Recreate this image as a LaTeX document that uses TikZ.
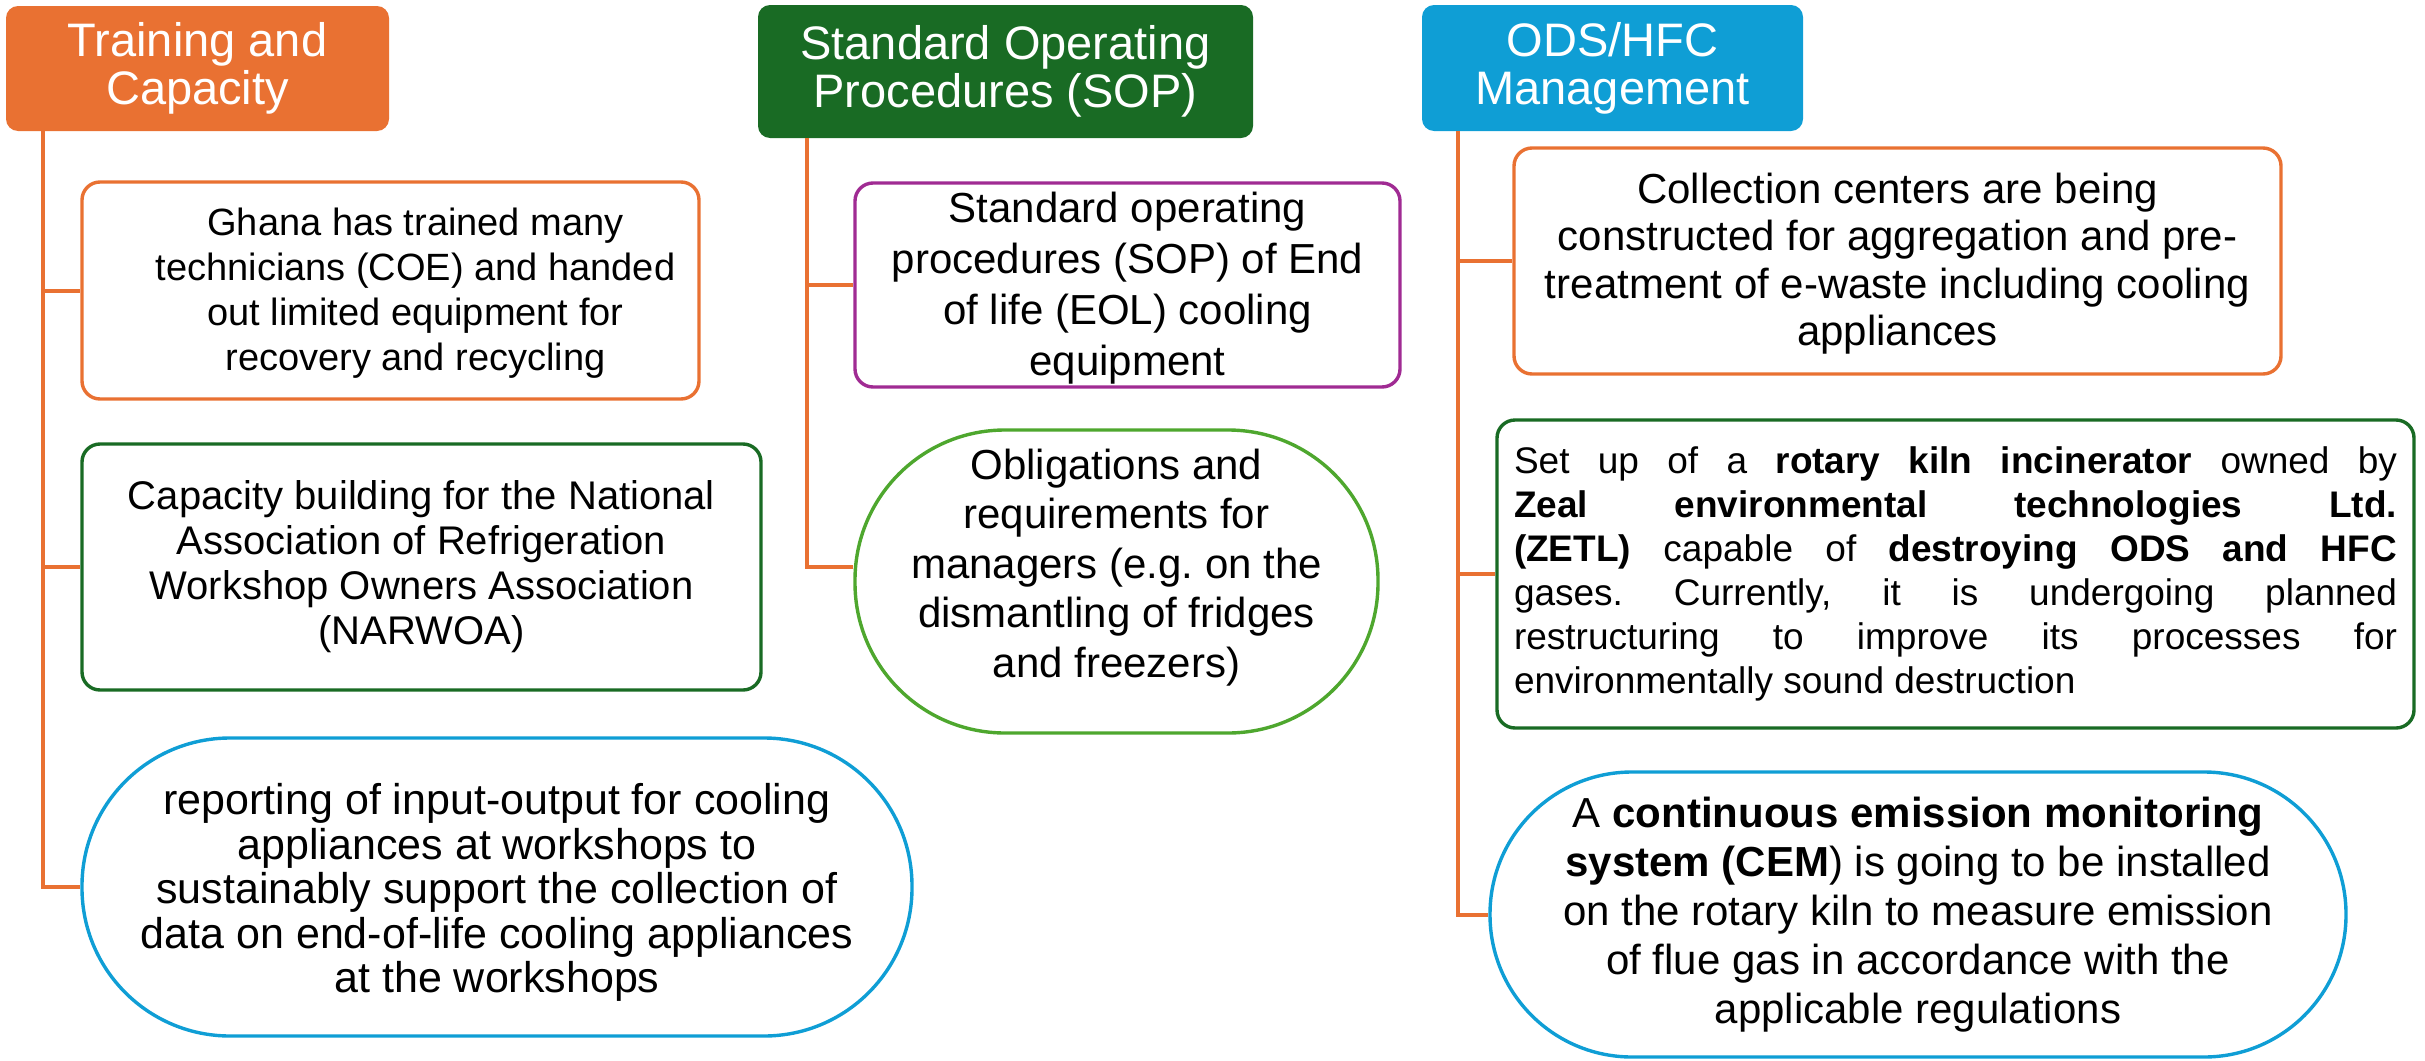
\documentclass[tikz,border=0pt]{standalone}
\usepackage{fontspec}
\setmainfont{Liberation Sans}
\frenchspacing

\definecolor{accOrange}{HTML}{E97132}
\definecolor{accGreen}{HTML}{196B24}
\definecolor{accBlue}{HTML}{0F9ED5}
\definecolor{accPurple}{HTML}{A02B93}
\definecolor{accLime}{HTML}{4EA72E}

% text block moved inside its box: {dx}{dy}{lines}
\newcommand{\nudgetext}[3]{\raisebox{#2}[\height][\depth]{\hspace*{#1}\begin{tabular}{@{}c@{}}#3\end{tabular}\hspace*{-#1}}}

\tikzset{
    headbox/.style={fill=#1, rounded corners=6pt, text=white, align=center, inner sep=0pt,
        font=\fontsize{23.5}{24}\selectfont},
    itembox/.style={draw=#1, line width=1.7pt, fill=white, rounded corners=9pt, align=center, inner sep=0pt},
    link/.style={draw=accOrange, line width=2pt},
}

\begin{document}
\begin{tikzpicture}[x=0.5pt,y=-0.5pt]

    % white page with the proportions of the original
    \useasboundingbox (0,0) rectangle (2425,1060);

    % column heads
    \node[headbox=accOrange, minimum width=191.5pt, minimum height=62.5pt] (train) at (197.5,68.5) {Training and\\Capacity};
    \node[headbox=accGreen, minimum width=247.5pt, minimum height=66.5pt] (sop) at (1005.5,71.5) {Standard Operating\\Procedures (SOP)};
    \node[headbox=accBlue, minimum width=190.5pt, minimum height=63pt] (ods) at (1612.5,68) {ODS/HFC\\Management};

    % first column
    \node[itembox=accOrange, minimum width=308.5pt, minimum height=108.5pt, font=\fontsize{19}{22.5}\selectfont] (ghana) at (390.5,290.5)
        {\nudgetext{12.5pt}{-1.5pt}{Ghana has trained many\\technicians (COE) and handed\\out limited equipment for\\recovery and recycling}};
    \node[itembox=accGreen, minimum width=339.5pt, minimum height=123pt, font=\fontsize{20}{22.5}\selectfont] (narwoa) at (421.5,567)
        {Capacity building for the National\\Association of Refrigeration\\Workshop Owners Association\\(NARWOA)};
    \node[itembox=accBlue, rounded corners=74pt, minimum width=415pt, minimum height=149pt, font=\fontsize{21.5}{22.25}\selectfont] (report) at (497,887)
        {\nudgetext{0pt}{-4pt}{reporting of input-output for cooling\\appliances at workshops to\\sustainably support the collection of\\data on end-of-life cooling appliances\\at the workshops}};

    % second column
    \node[itembox=accPurple, minimum width=272.5pt, minimum height=97pt, font=\fontsize{21}{25.5}\selectfont] (eol) at (1127.5,285)
        {\nudgetext{0pt}{-2pt}{Standard operating\\procedures (SOP) of End\\of life (EOL) cooling\\equipment}};
    \node[itembox=accLime, rounded corners=75pt, minimum width=261.5pt, minimum height=151.5pt, font=\fontsize{21}{24.75}\selectfont] (duty) at (1116.5,581.5)
        {\nudgetext{0pt}{6.7pt}{Obligations and\\requirements for\\managers (e.g. on the\\dismantling of fridges\\and freezers)}};

    % third column
    \node[itembox=accOrange, minimum width=383.5pt, minimum height=113pt, font=\fontsize{21}{23.75}\selectfont] (centre) at (1897.5,261)
        {\nudgetext{0pt}{-2pt}{Collection centers are being\\constructed for aggregation and pre-\\treatment of e-waste including cooling\\appliances}};
    \node[itembox=accGreen, minimum width=458.5pt, minimum height=154pt, text width=441.5pt, align=justify, font=\fontsize{18.5}{22}\selectfont] (zetl) at (1955.5,574)
        {Set up of a \textbf{rotary kiln incinerator} owned by\linebreak
         \textbf{Zeal environmental technologies Ltd.}\linebreak
         \textbf{(ZETL)} capable of \textbf{destroying ODS and HFC}\linebreak
         gases. Currently, it is undergoing planned\linebreak
         restructuring to improve its processes for\linebreak
         environmentally sound destruction};
    \node[itembox=accBlue, rounded corners=71pt, minimum width=428pt, minimum height=142.5pt, font=\fontsize{21}{24.5}\selectfont] (cem) at (1918,914.5)
        {A \textbf{continuous emission monitoring}\\\textbf{system (CEM}) is going to be installed\\on the rotary kiln to measure emission\\of flue gas in accordance with the\\applicable regulations};

    % trunks of the three columns
    \coordinate (trainTrunk) at ([xshift=18.5pt]train.south west);
    \coordinate (sopTrunk) at ([xshift=24.5pt]sop.south west);
    \coordinate (odsTrunk) at ([xshift=18pt]ods.south west);

    % branches
    \foreach \b in {ghana,narwoa,report}
        \draw[link] (trainTrunk) |- (\b.west);
    \draw[link] (sopTrunk) |- (eol.west);
    \draw[link] (sopTrunk) |- ([yshift=7.5pt]duty.west);
    \foreach \b in {centre,zetl,cem}
        \draw[link] (odsTrunk) |- (\b.west);

\end{tikzpicture}
\end{document}
